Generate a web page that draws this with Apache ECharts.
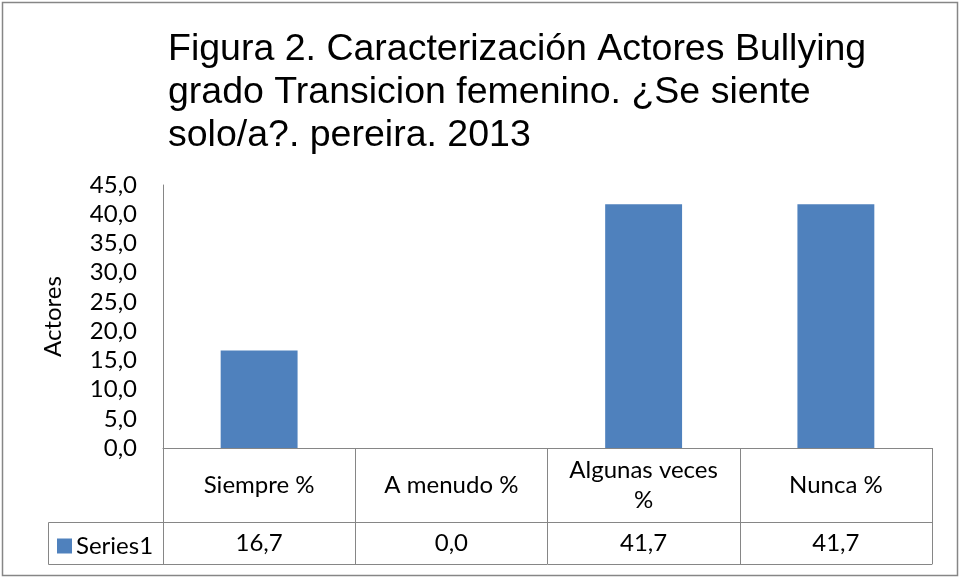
<!DOCTYPE html>
<html>
<head>
<meta charset="utf-8">
<script src="https://cdn.jsdelivr.net/npm/echarts@6/dist/echarts.min.js"></script>
<style>
  html, body { margin: 0; padding: 0; background: #fff; }
  #chart { width: 961px; height: 578px; }
</style>
</head>
<body>
<div id="chart"></div>
<script>
// datos del grafico
var categories = ['Siempre %', 'A menudo %', 'Algunas veces\n%', 'Nunca %'];
var values = [16.7, 0.0, 41.7, 41.7];
var seriesName = 'Series1';
var titleText = 'Figura 2. Caracterización Actores Bullying\ngrado Transicion femenino. ¿Se siente\nsolo/a?. pereira. 2013';

function coma(v) {
  return v.toFixed(1).replace('.', ',');
}

var font = 'Lato, "Open Sans", sans-serif';
var fs = 24;
var gris = '#868686';

// zona del grafico
var gLeft = 163, gRight = 29, gTop = 185, gBottom = 130;
var rowCat = 74, rowVal = 42;
var H = 578;
var axisY = H - gBottom;
var lineVal = axisY + rowCat;
var lineBot = lineVal + rowVal;
var legendLeft = 48;

var chart = echarts.init(document.getElementById('chart'));

var option = {
  animation: false,
  title: {
    text: titleText,
    left: 168,
    top: 28,
    padding: 0,
    textStyle: {
      fontFamily: '"Liberation Sans", Arial, sans-serif',
      fontSize: 37.5,
      lineHeight: 43,
      fontWeight: 'normal',
      color: '#000'
    }
  },
  legend: {
    left: 52,
    top: lineVal + 7,
    icon: 'rect',
    itemWidth: 15,
    itemHeight: 15,
    itemGap: 5,
    textStyle: { fontFamily: font, fontSize: fs, color: '#000', padding: [0, 0, 0, -1] },
    data: [seriesName]
  },
  grid: { left: gLeft, right: gRight, top: gTop, bottom: gBottom, containLabel: false },
  xAxis: [
    {
      type: 'category',
      data: categories,
      axisLine: { show: true, lineStyle: { color: gris, width: 1 } },
      axisTick: { show: true, interval: 0, length: rowCat + rowVal, lineStyle: { color: gris } },
      axisLabel: {
        interval: 0, hideOverlap: false,
        fontFamily: font, fontSize: fs, color: '#000', lineHeight: 30,
        margin: rowCat / 2, verticalAlign: 'middle', align: 'center'
      },
      splitLine: { show: false }
    },
    {
      type: 'category',
      position: 'bottom',
      offset: rowCat,
      data: values.map(coma),
      axisLine: { show: true, lineStyle: { color: gris, width: 1 } },
      axisTick: { show: false },
      axisLabel: {
        interval: 0, hideOverlap: false,
        fontFamily: font, fontSize: fs, color: '#000',
        margin: rowVal / 2, verticalAlign: 'middle'
      }
    },
    {
      type: 'category',
      position: 'bottom',
      offset: rowCat + rowVal,
      data: categories,
      axisLine: { show: true, lineStyle: { color: gris, width: 1 } },
      axisTick: { show: false },
      axisLabel: { show: false }
    }
  ],
  yAxis: {
    type: 'value',
    min: 0,
    max: 45,
    interval: 5,
    name: 'Actores',
    nameLocation: 'middle',
    nameGap: 98,
    nameRotate: 90,
    nameTextStyle: { fontFamily: font, fontSize: fs, color: '#000' },
    axisLine: { show: true, lineStyle: { color: gris, width: 1 } },
    axisTick: { show: false },
    splitLine: { show: false },
    axisLabel: {
      fontFamily: font, fontSize: fs, color: '#000', margin: 26,
      formatter: function (v) { return coma(v); }
    }
  },
  series: [
    {
      name: seriesName,
      type: 'bar',
      xAxisIndex: 0,
      data: values,
      barWidth: '40%',
      itemStyle: { color: '#4F81BD' }
    }
  ],
  graphic: [
    // marco exterior
    {
      type: 'rect',
      shape: { x: 2.5, y: 2.5, width: 955, height: 573 },
      style: { fill: null, stroke: gris, lineWidth: 1.5 },
      silent: true
    },
    // celda de la leyenda
    {
      type: 'polyline',
      shape: { points: [[gLeft, lineVal + 0.5], [legendLeft + 0.5, lineVal + 0.5], [legendLeft + 0.5, lineBot + 0.5], [gLeft, lineBot + 0.5]] },
      style: { fill: null, stroke: gris, lineWidth: 1 },
      silent: true
    }
  ]
};

chart.setOption(option);
</script>
</body>
</html>
